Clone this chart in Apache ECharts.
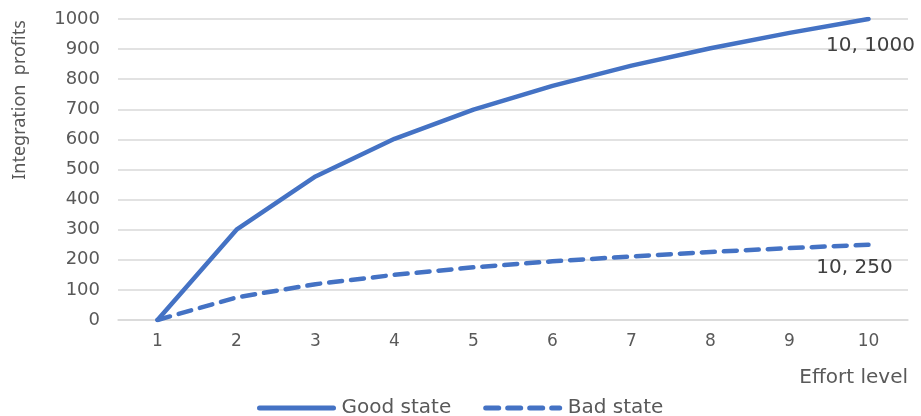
<!DOCTYPE html>
<html>
<head>
<meta charset="utf-8">
<script src="https://cdn.jsdelivr.net/npm/echarts@6/dist/echarts.min.js"></script>
<style>
html,body{margin:0;padding:0;background:#fff;}
#chart{width:921px;height:416px;}
</style>
</head>
<body>
<div id="chart"></div>
<script>
const categories = ['1','2','3','4','5','6','7','8','9','10'];
const goodState = [0, 300, 477, 602, 699, 778, 845, 903, 954, 1000];
const badState = [0, 75, 119, 150, 175, 195, 211, 226, 239, 250];
const yTicks = [0, 100, 200, 300, 400, 500, 600, 700, 800, 900, 1000];
const xTitle = 'Effort level';
const yTitle = 'Integration  profits';

const chart = echarts.init(document.getElementById('chart'));
const blue = '#4472C4';
const grey = '#595959';
const font = 'DejaVu Sans';

function endFormatter(p) {
  return categories[p.dataIndex] + ', ' + p.value;
}

chart.setOption({
  animation: false,
  grid: { left: 118, right: 13, top: 19, bottom: 96 },
  xAxis: {
    type: 'category',
    data: categories,
    boundaryGap: true,
    axisLine: { lineStyle: { color: '#d9d9d9', width: 1.5 } },
    axisTick: { show: false },
    axisLabel: { color: grey, fontFamily: font, fontSize: 17, margin: 13 }
  },
  yAxis: {
    type: 'value',
    min: yTicks[0],
    max: yTicks[yTicks.length - 1],
    interval: yTicks[1] - yTicks[0],
    axisLine: { show: false },
    axisTick: { show: false },
    splitLine: { lineStyle: { color: '#d9d9d9', width: 1.5 } },
    axisLabel: { color: grey, fontFamily: font, fontSize: 18, margin: 18, formatter: v => String(v) }
  },
  legend: {
    left: 252,
    top: 393,
    itemWidth: 74,
    itemHeight: 14,
    itemGap: 32,
    itemStyle: { opacity: 0 },
    lineStyle: { width: 5 },
    textStyle: { color: grey, fontFamily: font, fontSize: 20, padding: [0, 0, 0, 3] },
    data: ['Good state', 'Bad state']
  },
  graphic: [
    {
      type: 'text',
      x: 20, y: 100,
      rotation: Math.PI / 2,
      style: {
        text: yTitle,
        fill: grey,
        font: '18px "Noto Sans"',
        textAlign: 'center',
        textVerticalAlign: 'middle'
      }
    },
    {
      type: 'text',
      x: 908, y: 378,
      style: {
        text: xTitle,
        fill: grey,
        font: '20px "DejaVu Sans"',
        textAlign: 'right',
        textVerticalAlign: 'middle'
      }
    }
  ],
  series: [
    {
      name: 'Good state',
      type: 'line',
      data: goodState,
      symbol: 'none',
      lineStyle: { color: blue, width: 4.5, cap: 'round', join: 'round' },
      itemStyle: { color: blue },
      endLabel: {
        show: true,
        formatter: endFormatter,
        distance: 0,
        align: 'center',
        verticalAlign: 'middle',
        offset: [2, 27],
        color: '#404040',
        fontFamily: font,
        fontSize: 20
      }
    },
    {
      name: 'Bad state',
      type: 'line',
      data: badState,
      symbol: 'none',
      lineStyle: { color: blue, width: 4.5, type: [13, 9], cap: 'round', join: 'round' },
      itemStyle: { color: blue },
      endLabel: {
        show: true,
        formatter: endFormatter,
        distance: 0,
        align: 'center',
        verticalAlign: 'middle',
        offset: [-14, 23],
        color: '#404040',
        fontFamily: font,
        fontSize: 20
      }
    }
  ]
});
</script>
</body>
</html>
